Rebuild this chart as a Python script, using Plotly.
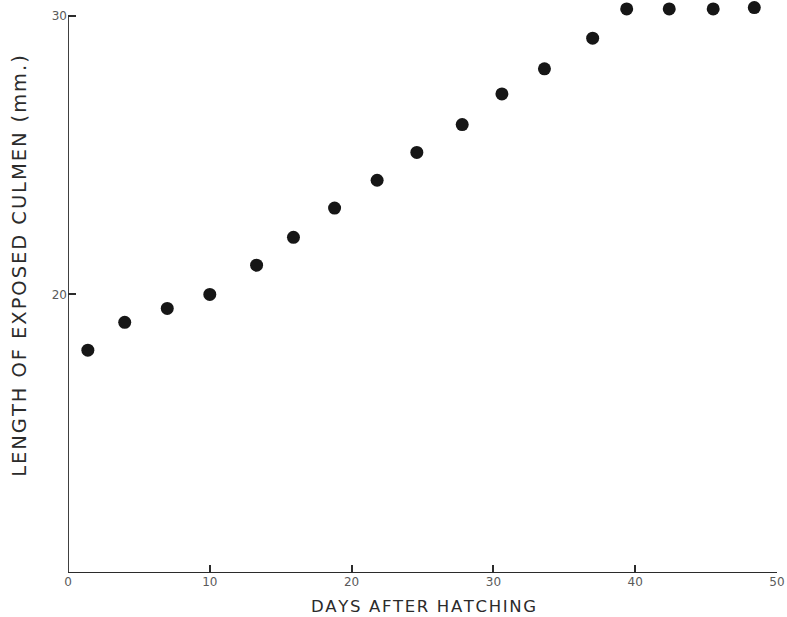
import plotly.graph_objects as go

# Culmen growth of the nestling, measured every few days after hatching
days = [1.4, 4.0, 7.0, 10.0, 13.3, 15.9, 18.8, 21.8, 24.6, 27.8,
        30.6, 33.6, 37.0, 39.4, 42.4, 45.5, 48.4]
culmen_mm = [18.0, 19.0, 19.5, 20.0, 21.05, 22.05, 23.1, 24.1, 25.1, 26.1,
             27.2, 28.1, 29.2, 30.25, 30.25, 30.25, 30.3]

x_ticks = [0, 10, 20, 30, 40, 50]
y_ticks = [20, 30]

x_title = "DAYS AFTER HATCHING"
y_title = "LENGTH OF EXPOSED CULMEN (mm.)"

ink = "#2b2b2b"
label_grey = "#5a5a5a"
font_family = "'DejaVu Sans', sans-serif"


def tracked(text):
    """Open up the letter spacing with hair spaces between characters."""
    return "\u200a".join(text)


fig = go.Figure(
    go.Scatter(
        x=days,
        y=culmen_mm,
        mode="markers",
        marker=dict(size=13, color="#161616", line=dict(width=0)),
        cliponaxis=False,
        hoverinfo="skip",
    )
)

axis_style = dict(
    ticks="inside",
    ticklen=8,
    tickwidth=1.5,
    tickcolor=ink,
    showline=False,
    showgrid=False,
    zeroline=False,
    tickfont=dict(family=font_family, size=12, color=label_grey),
)

fig.update_xaxes(range=[0, 50], tickvals=x_ticks,
                 ticktext=[str(v) for v in x_ticks], **axis_style)
# a little headroom above 30 so the plateau points are not cut off
fig.update_yaxes(range=[10, 30.5], tickvals=y_ticks,
                 ticktext=[str(v) for v in y_ticks], **axis_style)

# axis lines: y axis stops at 30, x axis runs 0..50
fig.add_shape(type="line", xref="x", yref="y", x0=0, y0=10, x1=0, y1=30,
              line=dict(color=ink, width=1.8))
fig.add_shape(type="line", xref="x", yref="y", x0=0, y0=10, x1=50, y1=10,
              line=dict(color=ink, width=1.8))

fig.add_annotation(
    text=tracked(x_title),
    xref="paper", yref="paper",
    x=0.502, y=-0.0595,
    xanchor="center", yanchor="middle",
    showarrow=False,
    font=dict(family=font_family, size=16.5, color=ink),
)

fig.add_annotation(
    text=tracked(y_title),
    xref="paper", yref="paper",
    x=-0.068, y=0.5377,
    xanchor="center", yanchor="middle",
    textangle=-90,
    showarrow=False,
    font=dict(family=font_family, size=19.5, color=ink),
)

fig.update_layout(
    width=787,
    height=617,
    margin=dict(l=68, r=10, t=2, b=44),
    paper_bgcolor="white",
    plot_bgcolor="white",
    showlegend=False,
)

fig.write_html("out.html")
